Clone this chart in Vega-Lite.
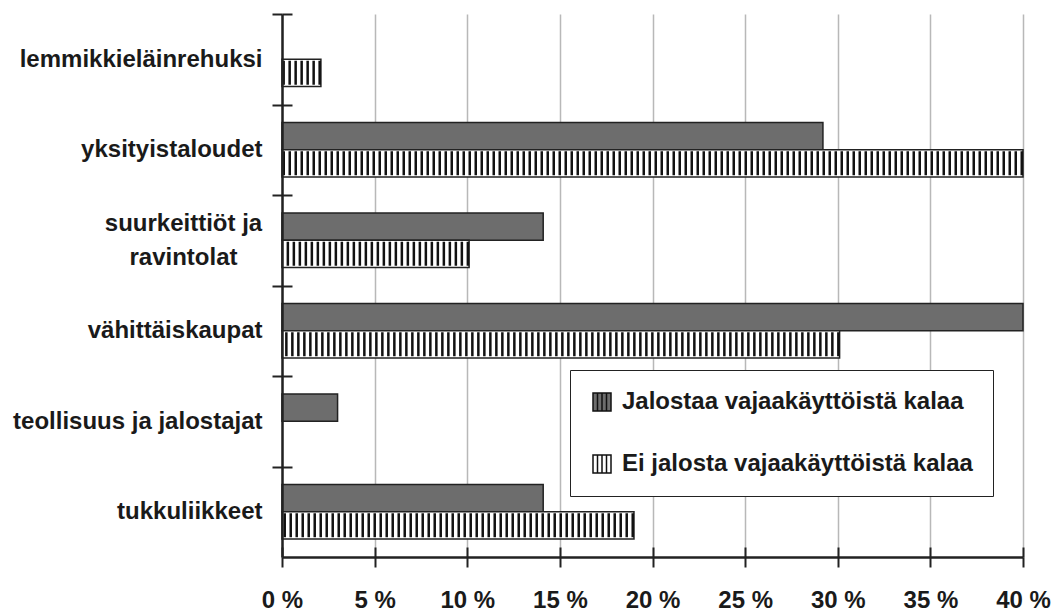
{
  "$schema": "https://vega.github.io/schema/vega-lite/v6.json",
  "width": 741,
  "height": 543,
  "autosize": "none",
  "padding": {"left": 282, "top": 14, "right": 34, "bottom": 54},
  "background": "white",
  "config": {
    "view": {"stroke": null},
    "font": "Liberation Sans",
    "axis": {"labelFont": "Liberation Sans", "labelFontWeight": "bold", "labelFontSize": 24, "labelColor": "#1a1a1a"}
  },
  "data": {
    "values": [
      {"kohde": "lemmikkieläinrehuksi", "ryhma": "Ei jalosta vajaakäyttöistä kalaa", "osuus": 2.1},
      {"kohde": "yksityistaloudet", "ryhma": "Jalostaa vajaakäyttöistä kalaa", "osuus": 29.2},
      {"kohde": "yksityistaloudet", "ryhma": "Ei jalosta vajaakäyttöistä kalaa", "osuus": 40},
      {"kohde": "suurkeittiöt ja ravintolat", "ryhma": "Jalostaa vajaakäyttöistä kalaa", "osuus": 14.1},
      {"kohde": "suurkeittiöt ja ravintolat", "ryhma": "Ei jalosta vajaakäyttöistä kalaa", "osuus": 10.1},
      {"kohde": "vähittäiskaupat", "ryhma": "Jalostaa vajaakäyttöistä kalaa", "osuus": 40},
      {"kohde": "vähittäiskaupat", "ryhma": "Ei jalosta vajaakäyttöistä kalaa", "osuus": 30.1},
      {"kohde": "teollisuus ja jalostajat", "ryhma": "Jalostaa vajaakäyttöistä kalaa", "osuus": 3.0},
      {"kohde": "tukkuliikkeet", "ryhma": "Jalostaa vajaakäyttöistä kalaa", "osuus": 14.1},
      {"kohde": "tukkuliikkeet", "ryhma": "Ei jalosta vajaakäyttöistä kalaa", "osuus": 19}
    ]
  },
  "resolve": {"axis": {"x": "independent", "y": "independent"}},
  "layer": [
    {
      "mark": {"type": "bar", "stroke": "#222", "strokeWidth": 1.5},
      "encoding": {
        "y": {
          "field": "kohde",
          "type": "nominal",
          "sort": ["lemmikkieläinrehuksi", "yksityistaloudet", "suurkeittiöt ja ravintolat", "vähittäiskaupat", "teollisuus ja jalostajat", "tukkuliikkeet"],
          "scale": {
            "domain": ["lemmikkieläinrehuksi", "yksityistaloudet", "suurkeittiöt ja ravintolat", "vähittäiskaupat", "teollisuus ja jalostajat", "tukkuliikkeet"],
            "paddingInner": 0.4,
            "paddingOuter": 0.2
          },
          "axis": {
            "title": null,
            "orient": "left",
            "zindex": 1,
            "tickOffset": -45.25,
            "tickSize": 10,
            "tickWidth": 2,
            "tickColor": "#222",
            "domainColor": "#222",
            "domainWidth": 2.5,
            "labelPadding": {"condition": {"test": "datum.value == 'suurkeittiöt ja ravintolat'", "value": 89}, "value": 10},
            "labelAlign": {"condition": {"test": "datum.value == 'suurkeittiöt ja ravintolat'", "value": "center"}, "value": "right"},
            "labelOffset": {"condition": {"test": "datum.value == 'suurkeittiöt ja ravintolat'", "value": 28.2}, "value": 45.25},
            "labelLimit": 400,
            "labelLineHeight": 34,
            "labelExpr": "datum.value == 'suurkeittiöt ja ravintolat' ? ['suurkeittiöt ja', 'ravintolat'] : datum.value"
          }
        },
        "yOffset": {
          "field": "ryhma",
          "type": "nominal",
          "scale": {"domain": ["Jalostaa vajaakäyttöistä kalaa", "Ei jalosta vajaakäyttöistä kalaa"], "paddingInner": 0, "paddingOuter": 0}
        },
        "x": {
          "field": "osuus",
          "type": "quantitative",
          "stack": null,
          "scale": {"domain": [0, 40], "nice": false},
          "axis": {
            "title": null,
            "orient": "bottom",
            "values": [0, 5, 10, 15, 20, 25, 30, 35, 40],
            "labelExpr": "datum.value + ' %'",
            "tickSize": 10,
            "tickWidth": 2,
            "tickColor": "#222",
            "domainColor": "#222",
            "domainWidth": 2.5,
            "labelPadding": 21,
            "labelFlush": false,
            "grid": true,
            "gridColor": "#b8b8b8",
            "gridWidth": 1.5
          }
        },
        "color": {
          "field": "ryhma",
          "type": "nominal",
          "scale": {"domain": ["Jalostaa vajaakäyttöistä kalaa", "Ei jalosta vajaakäyttöistä kalaa"], "range": ["#6d6d6d", "#ffffff"]},
          "legend": {
            "title": null,
            "orient": "none",
            "legendX": 288,
            "legendY": 356,
            "symbolType": "M-1,-1H1V1H-1Z M-0.5,-1V1 M0,-1V1 M0.5,-1V1",
            "symbolSize": 324,
            "symbolStrokeColor": "#111",
            "symbolStrokeWidth": 1.5,
            "labelFont": "Liberation Sans",
            "labelFontSize": 24,
            "labelFontWeight": "bold",
            "labelColor": "#1a1a1a",
            "labelOffset": 8,
            "labelLimit": 500,
            "rowPadding": 38,
            "padding": 20,
            "strokeColor": "#222",
            "fillColor": "white"
          }
        }
      }
    },
    {
      "transform": [{"filter": "datum.ryhma == 'Ei jalosta vajaakäyttöistä kalaa'"}],
      "mark": {"type": "rule", "strokeWidth": 24, "strokeDash": [2.5, 3.5], "strokeCap": "butt", "color": "#111"},
      "encoding": {
        "y": {
          "field": "kohde",
          "type": "nominal",
          "axis": {
            "title": null,
            "orient": "left",
            "zindex": 1,
            "tickOffset": -45.25,
            "tickSize": -10,
            "tickWidth": 2,
            "tickColor": "#222",
            "domain": false,
            "labels": false
          }
        },
        "yOffset": {"field": "ryhma", "type": "nominal"},
        "x": {
          "field": "osuus",
          "type": "quantitative",
          "axis": {
            "title": null,
            "orient": "bottom",
            "zindex": 1,
            "values": [0, 5, 10, 15, 20, 25, 30, 35, 40],
            "tickSize": -10,
            "tickWidth": 2,
            "tickColor": "#222",
            "domain": false,
            "labels": false,
            "grid": false
          }
        },
        "x2": {"datum": 0}
      }
    }
  ]
}
